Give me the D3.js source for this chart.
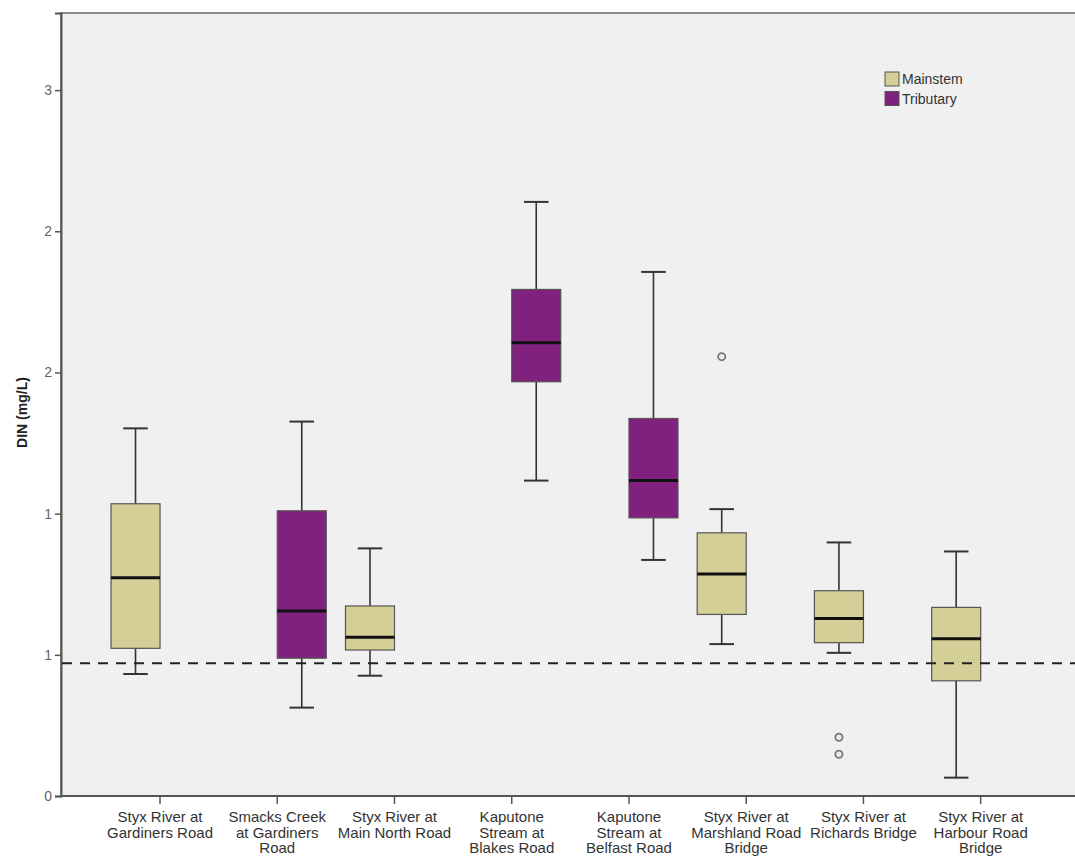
<!DOCTYPE html>
<html>
<head>
<meta charset="utf-8">
<script src="https://cdn.jsdelivr.net/npm/d3@7"></script>
<style>
  html, body { margin: 0; padding: 0; background: #ffffff; }
  svg { display: block; font-family: "Liberation Sans", Arial, sans-serif; }
</style>
</head>
<body>
<svg id="chart" width="1075" height="859"></svg>
<script>
// Sampling sites (line breaks mark the wrapped axis labels)
const sites = [
  "Styx River at\nGardiners Road",
  "Smacks Creek\nat Gardiners\nRoad",
  "Styx River at\nMain North Road",
  "Kaputone\nStream at\nBlakes Road",
  "Kaputone\nStream at\nBelfast Road",
  "Styx River at\nMarshland Road\nBridge",
  "Styx River at\nRichards Bridge",
  "Styx River at\nHarbour Road\nBridge"
];
const siteGroup = ["Mainstem", "Tributary", "Mainstem", "Tributary", "Tributary", "Mainstem", "Mainstem", "Mainstem"];
const groups = ["Mainstem", "Tributary"];

// Five-number summaries of DIN (mg/L) per site
const lowerWhisker = [0.432, 0.313, 0.426, 1.117, 0.836, 0.538, 0.507, 0.065];
const quartile1    = [0.523, 0.488, 0.517, 1.467, 0.985, 0.643, 0.543, 0.408];
const medianVal    = [0.773, 0.655, 0.562, 1.605, 1.117, 0.786, 0.629, 0.557];
const quartile3    = [1.035, 1.010, 0.673, 1.794, 1.337, 0.932, 0.727, 0.668];
const upperWhisker = [1.302, 1.326, 0.877, 2.104, 1.856, 1.016, 0.898, 0.866];
const outliers     = [[], [], [], [], [], [1.556], [0.208, 0.148], []];

// Guideline value drawn as the dashed reference line
const guideline = 0.47;

// y ticks at half units, printed with no decimals
const yTicks = [0, 0.5, 1, 1.5, 2, 2.5];

const groupColor = { Mainstem: "#d4cf96", Tributary: "#80217e" };

const svg = d3.select("#chart");
const plot = { left: 61, top: 13, right: 1085, bottom: 796 };

const y = d3.scaleLinear().domain([0, 2.773]).range([plot.bottom, plot.top]);
const x = d3.scaleBand().domain(sites).range([101.4, 1039.3]).paddingInner(0).paddingOuter(0);
const xg = d3.scaleBand().domain(groups).range([0, x.bandwidth()]).paddingInner(0).paddingOuter(0.196);

// Plot background and frame
svg.append("rect")
  .attr("x", plot.left).attr("y", plot.top)
  .attr("width", plot.right - plot.left).attr("height", plot.bottom - plot.top)
  .attr("fill", "#f0f0f0").attr("stroke", "#8a8a8a").attr("stroke-width", 2);

// Axes
const yAxis = svg.append("g")
  .attr("transform", `translate(${plot.left},0)`)
  .call(d3.axisLeft(y).tickValues(yTicks).tickSize(6).tickPadding(3)
    .tickFormat(d => String(Math.round(d))));
yAxis.select(".domain").attr("stroke", "#555").attr("stroke-width", 2);
yAxis.selectAll(".tick line").attr("stroke", "#555").attr("stroke-width", 1.5);
yAxis.selectAll(".tick text").attr("fill", "#666").style("font-size", "14px");

const xAxis = svg.append("g")
  .attr("transform", `translate(0,${plot.bottom})`)
  .call(d3.axisBottom(x).tickSize(8).tickFormat(""));
xAxis.select(".domain").attr("stroke", "#555").attr("stroke-width", 2)
  .attr("d", `M${plot.left},0H${plot.right}`);
xAxis.selectAll(".tick line").attr("stroke", "#555").attr("stroke-width", 1.5);

xAxis.selectAll(".tick").append("text")
  .attr("fill", "#333")
  .attr("text-anchor", "middle")
  .style("font-size", "15px")
  .selectAll("tspan")
  .data(d => d.split("\n"))
  .join("tspan")
  .attr("x", 0)
  .attr("y", (d, i) => 26 + i * 15.6)
  .text(d => d);

// Y axis title
svg.append("text")
  .attr("transform", `translate(27,${(plot.top + plot.bottom) / 2 + 8}) rotate(-90)`)
  .attr("text-anchor", "middle")
  .attr("fill", "#222")
  .style("font-size", "14px")
  .style("font-weight", "bold")
  .text("DIN (mg/L)");

// Boxes
const boxes = svg.append("g");
sites.forEach((s, i) => {
  const g = siteGroup[i];
  const x0 = x(s) + xg(g);
  const w = xg.bandwidth();
  const cx = x0 + w / 2;
  const cap = w / 2;
  const b = boxes.append("g");

  // whiskers
  b.append("line").attr("x1", cx).attr("x2", cx)
    .attr("y1", y(quartile3[i])).attr("y2", y(upperWhisker[i]))
    .attr("stroke", "#333").attr("stroke-width", 1.6);
  b.append("line").attr("x1", cx).attr("x2", cx)
    .attr("y1", y(quartile1[i])).attr("y2", y(lowerWhisker[i]))
    .attr("stroke", "#333").attr("stroke-width", 1.6);
  [upperWhisker[i], lowerWhisker[i]].forEach(v => {
    b.append("line").attr("x1", cx - cap / 2).attr("x2", cx + cap / 2)
      .attr("y1", y(v)).attr("y2", y(v))
      .attr("stroke", "#333").attr("stroke-width", 2);
  });

  // interquartile box
  b.append("rect")
    .attr("x", x0).attr("width", w)
    .attr("y", y(quartile3[i])).attr("height", y(quartile1[i]) - y(quartile3[i]))
    .attr("fill", groupColor[g]).attr("stroke", "#555").attr("stroke-width", 1.2);

  // median
  b.append("line").attr("x1", x0).attr("x2", x0 + w)
    .attr("y1", y(medianVal[i])).attr("y2", y(medianVal[i]))
    .attr("stroke", "#111").attr("stroke-width", 3);

  // outliers
  b.selectAll("circle").data(outliers[i]).join("circle")
    .attr("cx", cx).attr("cy", d => y(d)).attr("r", 3.6)
    .attr("fill", "#ececec").attr("stroke", "#777").attr("stroke-width", 1.8);
});

// Guideline
svg.append("line")
  .attr("x1", plot.left + 1).attr("x2", plot.right)
  .attr("y1", y(guideline)).attr("y2", y(guideline))
  .attr("stroke", "#222").attr("stroke-width", 2)
  .attr("stroke-dasharray", "10,8");

// Legend
const legend = svg.append("g").attr("transform", "translate(885,72)");
groups.forEach((g, i) => {
  const row = legend.append("g").attr("transform", `translate(0,${i * 19.5})`);
  row.append("rect").attr("width", 14).attr("height", 14)
    .attr("fill", groupColor[g]).attr("stroke", "#555").attr("stroke-width", 1);
  row.append("text").attr("x", 17).attr("y", 12)
    .attr("fill", "#333").style("font-size", "14px").text(g);
});
</script>
</body>
</html>
